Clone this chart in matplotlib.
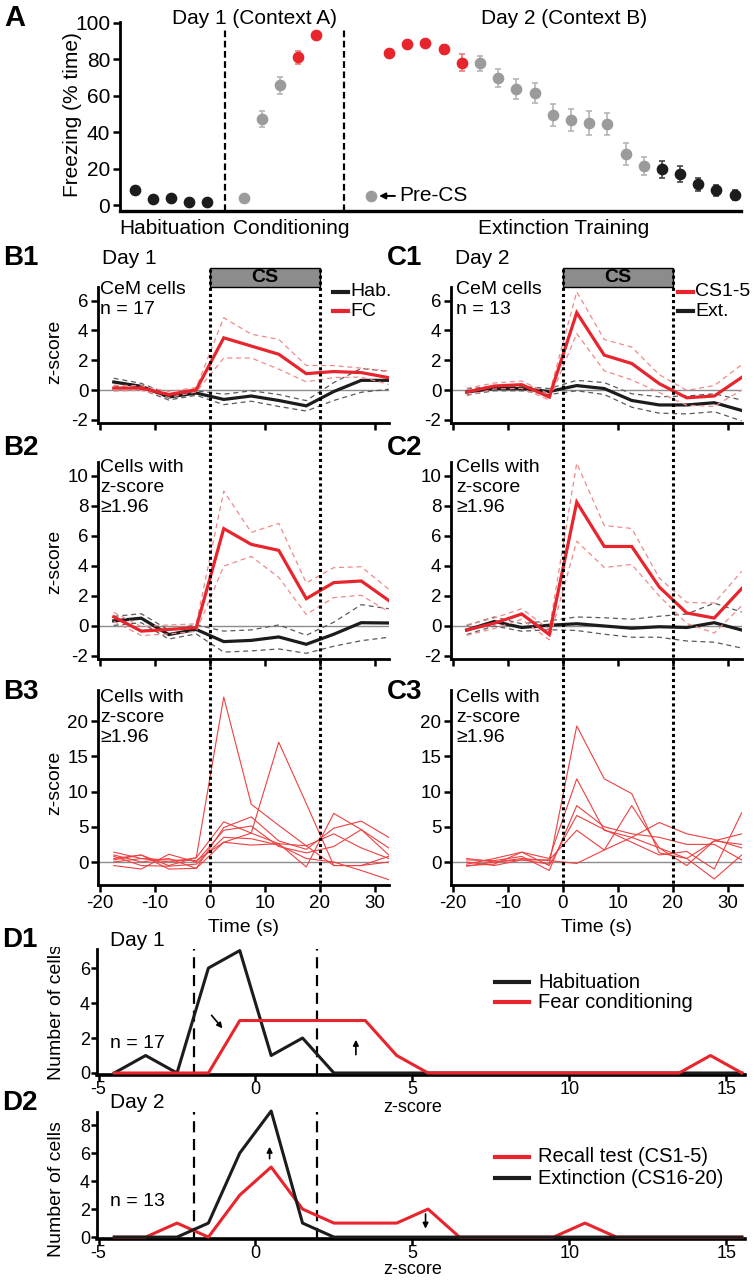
import matplotlib
matplotlib.use('Agg')
import matplotlib.pyplot as plt
from matplotlib.lines import Line2D
from matplotlib.patches import Rectangle
from matplotlib.transforms import blended_transform_factory
import numpy as np

plt.rcParams['font.family'] = ['Liberation Sans', 'DejaVu Sans']
plt.rcParams['axes.unicode_minus'] = False

# ---------------- DATA ----------------
# Panel A: freezing (% time)
hab_vals = [8.2, 3.3, 3.7, 1.8, 1.8]
hab_err = [1.0, 0.8, 0.8, 0.6, 0.6]
cond_pre_val = [4.0]
cond_vals = [47.0, 65.6, 81.0, 93.2]
cond_err = [4.3, 4.5, 3.5, 1.2]
cond_groups = ['gray', 'gray', 'red', 'red']
ext_pre_val = [5.0]
ext_vals = [83.2, 88.1, 88.7, 85.4, 78.1,
            77.7, 69.5, 63.4, 61.6, 49.4, 46.6, 44.8, 44.2, 28.0, 21.6,
            19.6, 17.0, 11.3, 8.2, 5.5]
ext_err = [1.8, 1.8, 2.0, 2.5, 4.5,
           4.0, 5.0, 5.5, 5.5, 6.0, 6.0, 6.5, 6.0, 6.0, 5.0,
           4.8, 4.5, 3.5, 3.0, 2.5]
ext_groups = ['red'] * 5 + ['gray'] * 10 + ['black'] * 5
seg_labels = ['Habituation', 'Conditioning', 'Extinction Training']

# Panels B/C: z-score time courses
time_bins = [-17.5, -12.5, -7.5, -2.5, 2.5, 7.5, 12.5, 17.5, 22.5, 27.5, 32.5]
b1_hab_mean = [0.54, 0.25, -0.47, -0.2, -0.63, -0.4, -0.7, -1.06, -0.1, 0.65, 0.65]
b1_hab_sem = [0.25, 0.2, 0.2, 0.15, 0.35, 0.35, 0.4, 0.35, 0.6, 0.8, 0.6]
b1_fc_mean = [0.13, 0.13, -0.3, 0.02, 3.5, 2.95, 2.4, 1.1, 1.24, 1.17, 0.83]
b1_fc_sem = [0.2, 0.15, 0.2, 0.15, 1.35, 0.8, 1.0, 0.55, 0.4, 0.3, 0.45]
c1_cs_mean = [-0.13, 0.27, 0.36, -0.47, 5.19, 2.34, 1.78, 0.43, -0.52, -0.4, 0.85]
c1_cs_sem = [0.25, 0.2, 0.25, 0.2, 1.4, 1.05, 1.1, 0.6, 0.5, 0.7, 0.85]
c1_ext_mean = [-0.13, 0.1, 0.1, -0.1, 0.3, 0.1, -0.7, -1.0, -1.0, -0.85, -1.37]
c1_ext_sem = [0.2, 0.15, 0.15, 0.2, 0.35, 0.4, 0.45, 0.55, 0.6, 0.6, 0.7]
b2_hab_mean = [0.34, 0.52, -0.57, -0.23, -1.04, -0.96, -0.73, -1.22, -0.55, 0.22, 0.2]
b2_hab_sem = [0.3, 0.3, 0.3, 0.3, 0.7, 0.7, 0.8, 0.6, 0.8, 1.2, 0.95]
b2_fc_mean = [0.61, -0.34, -0.23, -0.11, 6.49, 5.44, 5.04, 1.82, 2.89, 3.0, 1.7]
b2_fc_sem = [0.3, 0.3, 0.3, 0.25, 2.5, 0.8, 1.8, 1.05, 1.0, 0.95, 0.75]
c2_cs_mean = [-0.27, 0.18, 0.8, -0.57, 8.25, 5.3, 5.3, 2.6, 0.87, 0.53, 2.5]
c2_cs_sem = [0.35, 0.35, 0.35, 0.35, 2.6, 1.4, 1.2, 0.6, 0.7, 1.0, 1.15]
c2_ext_mean = [-0.27, 0.3, -0.1, 0.05, 0.15, 0.0, -0.15, -0.05, -0.1, 0.22, -0.27]
c2_ext_sem = [0.3, 0.3, 0.25, 0.3, 0.45, 0.55, 0.6, 0.7, 0.9, 1.3, 1.2]

b3_cells = [
    [0.5, 1.0, -0.5, 0.6, 23.4, 8.2, 5.2, 2.3, 4.0, 2.0, 0.5],
    [1.0, 0.0, 0.5, -0.9, 2.8, 4.1, 17.0, 8.3, -0.5, -0.5, 0.0],
    [1.4, 0.5, 0.0, 0.6, 5.7, 4.1, 2.6, -0.7, 6.9, 4.6, 2.0],
    [0.3, 1.0, -1.0, -0.9, 4.9, 6.4, 3.0, 1.8, 4.8, 5.8, 3.5],
    [-0.5, -1.0, 1.1, 0.0, 4.5, 5.1, 2.2, 1.3, 2.2, 4.6, 1.0],
    [0.8, -0.5, -0.6, -0.3, 3.5, 3.3, 2.4, 0.5, 0.0, -1.2, -2.5],
    [0.0, 0.5, 0.3, 0.2, 2.8, 2.4, 2.6, 2.3, -0.5, -0.5, 0.8],
]
c3_cells = [
    [0.5, 0.0, 0.3, -0.3, 19.3, 11.8, 9.7, 1.3, 0.5, 3.0, 2.5],
    [-0.5, -0.3, 1.4, 0.5, 11.8, 4.5, 3.5, 2.0, 0.5, -2.4, 1.0],
    [0.3, 0.2, 0.8, -1.2, 8.0, 5.0, 4.0, 3.5, 2.5, 2.5, 0.3],
    [-0.3, 0.5, 1.4, -0.5, 6.6, 4.6, 2.8, 1.0, 1.5, -1.0, 7.0],
    [0.0, -0.5, 0.3, 0.3, 4.5, 1.7, 8.0, 2.0, -0.5, 3.0, 4.0],
    [-0.6, 0.0, 0.5, 0.2, -0.2, 1.7, 3.5, 5.6, 4.0, 3.2, 2.0],
]

# Panels D: histograms of z-scores
z_bins = [-4.5, -3.5, -2.5, -1.5, -0.5, 0.5, 1.5, 2.5, 3.5, 4.5, 5.5, 6.5, 7.5,
          8.5, 9.5, 10.5, 11.5, 12.5, 13.5, 14.5, 15.5]
d1_hab = [0, 1, 0, 6, 7, 1, 2, 0, 0, 0, 0, 0, 0, 0, 0, 0, 0, 0, 0, 0, 0]
d1_fc = [0, 0, 0, 0, 3, 3, 3, 3, 3, 1, 0, 0, 0, 0, 0, 0, 0, 0, 0, 1, 0]
d2_recall = [0, 0, 1, 0, 3, 5, 2, 1, 1, 1, 2, 0, 0, 0, 0, 1, 0, 0, 0, 0, 0]
d2_ext = [0, 0, 0, 1, 6, 9, 1, 0, 0, 0, 0, 0, 0, 0, 0, 0, 0, 0, 0, 0, 0]
z_thresh = [-1.96, 1.96]

# ---------------- LAYOUT HELPERS ----------------
W, H = 754, 1280
fig = plt.figure(figsize=(W / 100, H / 100), dpi=100)
fig.patch.set_facecolor('white')

def fx(x):
    return x / W

def fy(y):
    return 1 - y / H

def add_ax(l, t, r, b):
    return fig.add_axes([l / W, 1 - b / H, (r - l) / W, (b - t) / H])

RED = '#e8242c'
GRAY = '#9b9b9b'
BLACK = '#1c1c1c'

def ftext(x, y, s, **kw):
    kw.setdefault('va', 'center')
    kw.setdefault('ha', 'left')
    return fig.text(fx(x), fy(y), s, **kw)

# ---------------- PANEL A ----------------
axA = add_ax(120, 21.7, 741, 210.7)
axA.set_xlim(-0.8, 33.35)
axA.set_ylim(-3.1, 100.5)
for s in ['top', 'right']:
    axA.spines[s].set_visible(False)
axA.spines['left'].set_linewidth(2.0)
axA.spines['bottom'].set_linewidth(2.4)
axA.set_xticks([])
axA.set_yticks([0, 20, 40, 60, 80, 100])
axA.tick_params(axis='y', width=1.8, length=5, labelsize=15, pad=2)
axA.patch.set_alpha(0)

col_map = {'red': (RED, '#f07a7a'), 'gray': (GRAY, '#b5b5b5'), 'black': (BLACK, '#444444')}

def pts(ax, xs, ys, es, group):
    c, ec = col_map[group]
    ax.errorbar(xs, ys, yerr=es, fmt='o', ms=7.4, mfc=c, mec=c, ecolor=ec,
                elinewidth=1.2, capsize=2.5, capthick=1.2, zorder=3)

hab_x = np.arange(len(hab_vals))
pts(axA, hab_x, hab_vals, hab_err, 'black')
cond_pre_x = len(hab_vals) + 1
pts(axA, [cond_pre_x], cond_pre_val, [0], 'gray')
cond_x = cond_pre_x + 1 + np.arange(len(cond_vals))
for g in ['gray', 'red']:
    sel = [i for i, gg in enumerate(cond_groups) if gg == g]
    pts(axA, cond_x[sel], [cond_vals[i] for i in sel], [cond_err[i] for i in sel], g)
ext_pre_x = cond_x[-1] + 3
pts(axA, [ext_pre_x], ext_pre_val, [0], 'gray')
ext_x = ext_pre_x + 1 + np.arange(len(ext_vals))
for g in ['red', 'gray', 'black']:
    sel = [i for i, gg in enumerate(ext_groups) if gg == g]
    pts(axA, ext_x[sel], [ext_vals[i] for i in sel], [ext_err[i] for i in sel], g)

div1 = (hab_x[-1] + cond_pre_x) / 2
div2 = (cond_x[-1] + ext_pre_x) / 2
for d in [div1, div2]:
    axA.plot([d, d], [-3.1, 96.5], color='k', lw=1.6, ls=(0, (3, 1.6)), clip_on=False, zorder=2)

axA.annotate('Pre-CS', xy=(ext_pre_x + 0.45, ext_pre_val[0]),
             xytext=(ext_pre_x + 1.55, ext_pre_val[0]), fontsize=15, va='center', ha='left',
             arrowprops=dict(arrowstyle='-|>', color='k', lw=1.4, mutation_scale=9,
                             shrinkA=1, shrinkB=0))
trA = blended_transform_factory(axA.transData, fig.transFigure)
seg_centers = [2.05, 8.6, 23.6]
for lab, cx in zip(seg_labels, seg_centers):
    fig.text(cx, fy(228), lab, transform=trA, ha='center', va='center', fontsize=15)
fig.text(6.6, fy(18), 'Day 1 (Context A)', transform=trA, ha='center', va='center', fontsize=15)
fig.text(23.6, fy(18), 'Day 2 (Context B)', transform=trA, ha='center', va='center', fontsize=15)
ftext(72, 115, 'Freezing (% time)', rotation=90, ha='center', fontsize=15)
ftext(4, 18, 'A', fontsize=21, fontweight='bold')

# ---------------- PANELS B / C ----------------
def style_bc(ax, ylim, yticks, xlabels):
    ax.set_xlim(-20.36, 32.5)
    ax.set_ylim(*ylim)
    for s in ['top', 'right']:
        ax.spines[s].set_visible(False)
    ax.spines['left'].set_linewidth(2.0)
    ax.spines['bottom'].set_linewidth(2.0)
    ax.set_xticks([-20, -10, 0, 10, 20, 30])
    ax.set_yticks(yticks)
    ax.tick_params(width=1.8, length=5, labelsize=13.5, pad=2)
    if not xlabels:
        ax.set_xticklabels([])
    ax.axhline(0, color='#8c8c8c', lw=1.0, zorder=1)
    ax.patch.set_alpha(0)

def mean_sem(ax, mean, sem, color, dcolor, zo):
    m = np.array(mean)
    s = np.array(sem)
    ax.plot(time_bins, m + s, color=dcolor, lw=0.9, ls=(0, (4, 3)), zorder=zo)
    ax.plot(time_bins, m - s, color=dcolor, lw=0.9, ls=(0, (4, 3)), zorder=zo)
    ax.plot(time_bins, m, color=color, lw=2.3, zorder=zo + 1, solid_joinstyle='miter')

LRED = '#f08a8a'
DGRAY = '#5a5a5a'

cols = {'B': (98, 388.75), 'C': (451, 741.75)}
rows = {1: (287, 423, (-2.21, 6.91), [-2, 0, 2, 4, 6]),
        2: (462, 659, (-2.2, 10.93), [-2, 0, 2, 4, 6, 8, 10]),
        3: (690, 885, (-3.26, 24.4), [0, 5, 10, 15, 20])}
axes = {}
for c, (l, r) in cols.items():
    for rr, (t, b, yl, yt) in rows.items():
        ax = add_ax(l, t, r, b)
        style_bc(ax, yl, yt, rr == 3)
        axes[c + str(rr)] = ax

mean_sem(axes['B1'], b1_hab_mean, b1_hab_sem, BLACK, DGRAY, 2)
mean_sem(axes['B1'], b1_fc_mean, b1_fc_sem, RED, LRED, 4)
mean_sem(axes['C1'], c1_ext_mean, c1_ext_sem, BLACK, DGRAY, 2)
mean_sem(axes['C1'], c1_cs_mean, c1_cs_sem, RED, LRED, 4)
mean_sem(axes['B2'], b2_hab_mean, b2_hab_sem, BLACK, DGRAY, 2)
mean_sem(axes['B2'], b2_fc_mean, b2_fc_sem, RED, LRED, 4)
mean_sem(axes['C2'], c2_ext_mean, c2_ext_sem, BLACK, DGRAY, 2)
mean_sem(axes['C2'], c2_cs_mean, c2_cs_sem, RED, LRED, 4)
for cell in b3_cells:
    axes['B3'].plot(time_bins, cell, color='#ee4040', lw=0.8, zorder=3)
for cell in c3_cells:
    axes['C3'].plot(time_bins, cell, color='#ee4040', lw=0.8, zorder=3)

for c in ['B', 'C']:
    ax = axes[c + '1']
    tr = blended_transform_factory(ax.transData, fig.transFigure)
    fig.add_artist(Rectangle((0, fy(287)), 20, fy(268.5) - fy(287), transform=tr,
                             facecolor='#8c8c8c', edgecolor='k', lw=1.0, zorder=5))
    fig.text(10, fy(278), 'CS', transform=tr, ha='center', va='center',
             fontsize=14, fontweight='bold', zorder=6)
    for xv in [0, 20]:
        fig.add_artist(Line2D([xv, xv], [fy(268.5), fy(885)], transform=tr, color='k',
                              lw=2.2, ls=(0, (1, 1)), zorder=6))
    axes[c + '3'].set_xlabel('Time (s)', fontsize=14, labelpad=5)

for c, x0 in [('B', 100), ('C', 456)]:
    ftext(x0, 290, 'CeM cells', fontsize=14)
    ftext(x0, 310, 'n = 17' if c == 'B' else 'n = 13', fontsize=14)
    for y0 in [468, 697]:
        ftext(x0, y0, 'Cells with', fontsize=14)
        ftext(x0, y0 + 20, 'z-score', fontsize=14)
        ftext(x0, y0 + 40, '\u22651.96', fontsize=14)

for lab, x0, y0 in [('B1', 3, 258), ('C1', 387, 258), ('B2', 3, 448), ('C2', 387, 448),
                    ('B3', 3, 692), ('C3', 387, 692), ('D1', 2, 940), ('D2', 2, 1103)]:
    ftext(x0, y0, lab, fontsize=20, fontweight='bold')
ftext(102, 258, 'Day 1', fontsize=15)
ftext(455, 258, 'Day 2', fontsize=15)
for yc in [352, 562, 783]:
    ftext(55, yc, 'z-score', rotation=90, ha='center', fontsize=14)

# B1 / C1 legends
for (x0, y0, lab, col) in [(333, 292, 'Hab.', BLACK), (333, 311, 'FC', RED),
                           (678, 292, 'CS1-5', RED), (678, 311, 'Ext.', BLACK)]:
    fig.add_artist(Line2D([fx(x0), fx(x0 + 15)], [fy(y0), fy(y0)], color=col, lw=3))
    ftext(x0 + 17, y0, lab, fontsize=14)

# ---------------- PANELS D ----------------
def style_d(ax, ylim, yticks):
    ax.set_xlim(-5.05, 15.6)
    ax.set_ylim(*ylim)
    for s in ['top', 'right']:
        ax.spines[s].set_visible(False)
    ax.spines['left'].set_linewidth(2.0)
    ax.spines['bottom'].set_linewidth(2.6)
    ax.set_xticks([-5, 0, 5, 10, 15])
    ax.set_yticks(yticks)
    ax.tick_params(width=1.8, length=4, labelsize=13, pad=1)
    ax.patch.set_alpha(0)
    for t in z_thresh:
        ax.axvline(t, color='k', lw=1.6, ls=(0, (5, 3)), zorder=1)

axD1 = add_ax(97, 949, 745, 1074.5)
style_d(axD1, (-0.086, 7.09), [0, 2, 4, 6])
axD1.plot(z_bins, d1_hab, color=BLACK, lw=2.2, clip_on=False, zorder=3)
axD1.plot(z_bins, d1_fc, color=RED, lw=2.2, clip_on=False, zorder=4)
axD1.annotate('', xy=(-1.05, 2.55), xytext=(-1.4, 3.3),
              arrowprops=dict(arrowstyle='-|>', color='k', lw=1.2, mutation_scale=8, shrinkA=0, shrinkB=0))
axD1.annotate('', xy=(3.2, 1.9), xytext=(3.2, 1.05),
              arrowprops=dict(arrowstyle='-|>', color='k', lw=1.2, mutation_scale=8, shrinkA=0, shrinkB=0))
ftext(110, 1043, 'n = 17', fontsize=14)
ftext(110, 940, 'Day 1', fontsize=15)
fig.text(fx(413), fy(1107), 'z-score', ha='center', va='center', fontsize=13)
yl1 = ftext(57, 1012, 'Number of cells', rotation=90, ha='center', fontsize=14)
yl1.set_clip_path(Rectangle((0, 0), 1, fy(947), transform=fig.transFigure))
for (x0, y0, lab, col) in [(495, 982, 'Habituation', BLACK), (495, 1002, 'Fear conditioning', RED)]:
    fig.add_artist(Line2D([fx(x0), fx(x0 + 34)], [fy(y0), fy(y0)], color=col, lw=3))
    ftext(x0 + 43, y0, lab, fontsize=14.5)

axD2 = add_ax(97, 1112, 745, 1238.5)
style_d(axD2, (-0.1, 8.93), [0, 2, 4, 6, 8])
axD2.plot(z_bins, d2_recall, color=RED, lw=2.2, clip_on=False, zorder=3)
axD2.plot(z_bins, d2_ext, color=BLACK, lw=2.2, clip_on=False, zorder=4)
axD2.annotate('', xy=(0.45, 6.45), xytext=(0.45, 5.6),
              arrowprops=dict(arrowstyle='-|>', color='k', lw=1.2, mutation_scale=8, shrinkA=0, shrinkB=0))
axD2.annotate('', xy=(5.42, 0.6), xytext=(5.42, 1.65),
              arrowprops=dict(arrowstyle='-|>', color='k', lw=1.2, mutation_scale=8, shrinkA=0, shrinkB=0))
ftext(110, 1202, 'n = 13', fontsize=14)
ftext(110, 1103, 'Day 2', fontsize=15)
fig.text(fx(413), fy(1269), 'z-score', ha='center', va='center', fontsize=13)
ftext(57, 1189, 'Number of cells', rotation=90, ha='center', fontsize=14)
for (x0, y0, lab, col) in [(495, 1157, 'Recall test (CS1-5)', RED), (495, 1178, 'Extinction (CS16-20)', BLACK)]:
    fig.add_artist(Line2D([fx(x0), fx(x0 + 34)], [fy(y0), fy(y0)], color=col, lw=3))
    ftext(x0 + 43, y0, lab, fontsize=14.5)

fig.savefig('out.png', dpi=100, facecolor='white')
